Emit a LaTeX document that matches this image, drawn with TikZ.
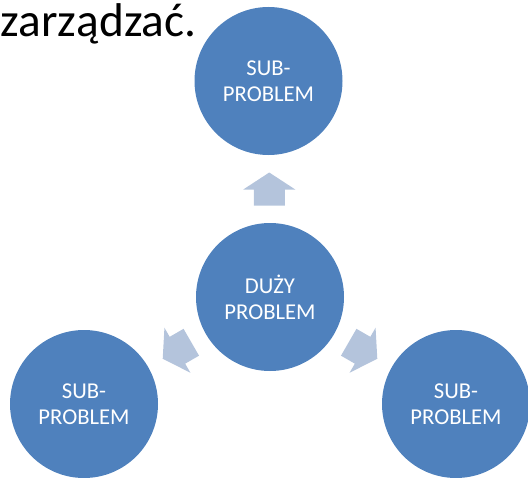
\documentclass[tikz,border=0pt]{standalone}
\usepackage{fontspec}
\setmainfont{Carlito}
\usetikzlibrary{calc}

\definecolor{circleblue}{RGB}{79,129,189}
\definecolor{arrowblue}{RGB}{180,196,220}

\tikzset{every picture/.style={line width=1pt},
  problem/.style={circle, fill=circleblue, minimum size=111pt, inner sep=0pt, text=white, align=center, font=\fontsize{17}{19.5}\selectfont},
  pics/blockarrow/.style={code={
    \fill [arrowblue] (-16.5,-15.5) -- (-0.5,-15.5) -- (-0.5,-26) -- (16.5,0) -- (-0.5,26) -- (-0.5,15.5) -- (-16.5,15.5) -- cycle ;
  }}
}

\begin{document}
\begin{tikzpicture}[x=0.75pt,y=0.75pt,yscale=-1,xscale=1]
\useasboundingbox (0,0) rectangle (528,478);

%Shape: Circle [id:big]
\node [problem] (big) at (270,297) {DUŻY\\PROBLEM};
%Shape: Circle [id:top]
\node [problem] (top) at (268.5,81) {SUB-\\PROBLEM};
%Shape: Circle [id:left]
\node [problem] (left) at (84,404) {SUB-\\PROBLEM};
%Shape: Circle [id:right]
\node [problem] (right) at (456,404) {SUB-\\PROBLEM};

%Shape: Block Arrows
\pic [rotate=90] (uparrow) at ($(big)!0.5!(top)$) {blockarrow};
\pic [rotate=210] (leftarrow) at ($(big)!0.5!(left)$) {blockarrow};
\pic [rotate=330] (rightarrow) at ($(big)!0.5!(right)$) {blockarrow};

% Text Node
\node [anchor=base west, inner sep=0pt, font=\fontsize{35.5}{42}\selectfont] (title) at (0,37) {zarządzać.};

\end{tikzpicture}
\end{document}
